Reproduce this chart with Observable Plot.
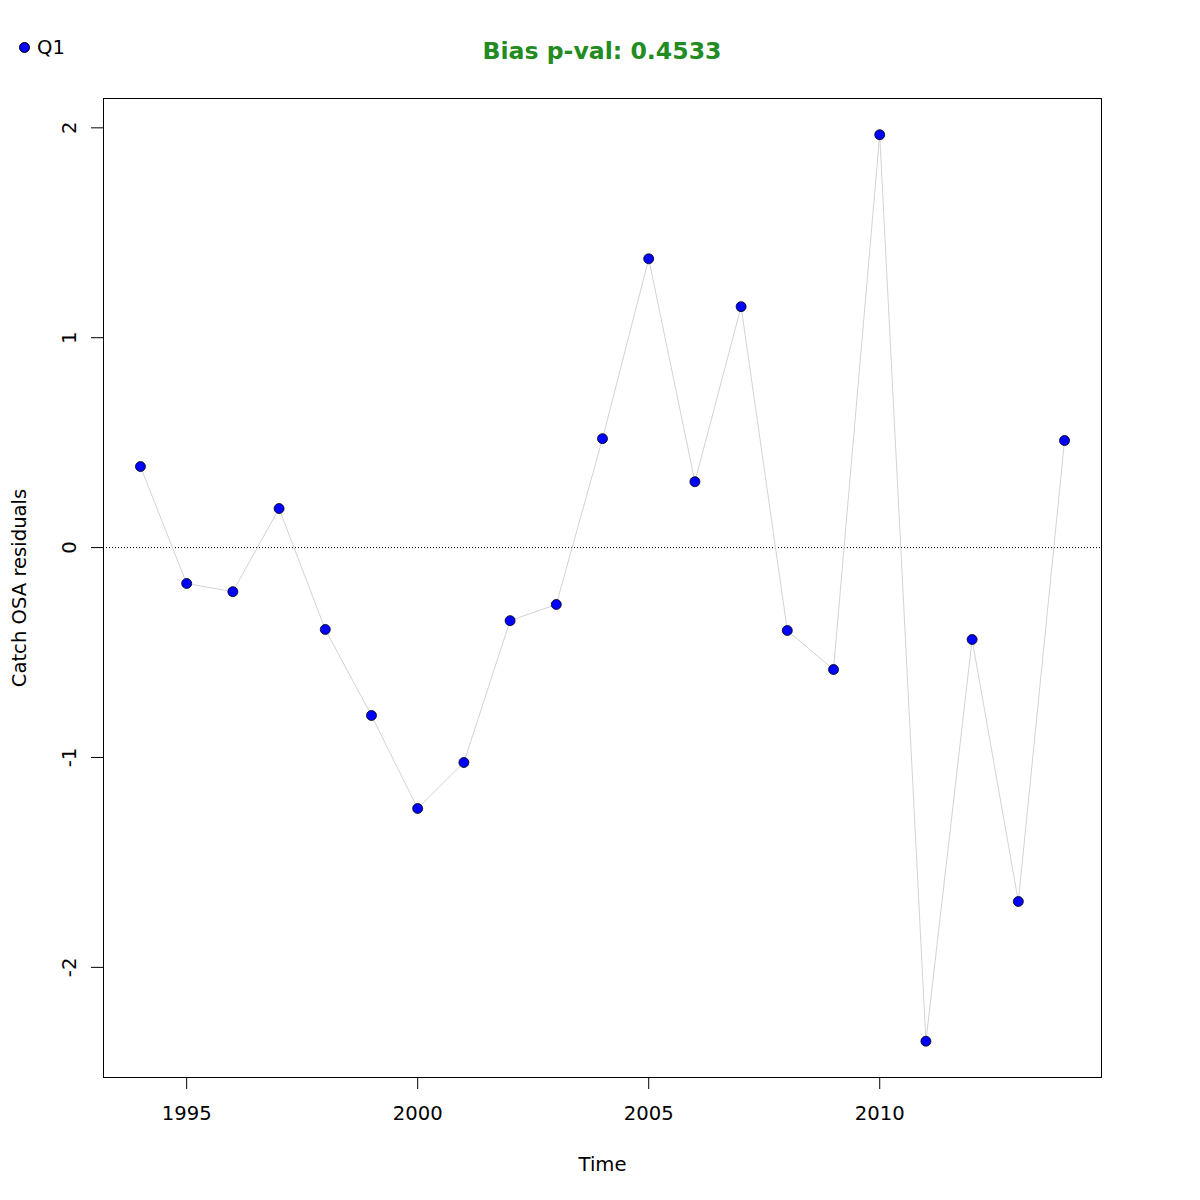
<!DOCTYPE html>
<html><head><meta charset="utf-8">
<script src="https://cdn.jsdelivr.net/npm/d3@7"></script>
<script src="https://cdn.jsdelivr.net/npm/@observablehq/plot@0.6"></script>
<style>
body{margin:0;background:#fff;}
#wrap{position:relative;width:1200px;height:1200px;font-family:"DejaVu Sans",sans-serif;}
.ov{position:absolute;white-space:nowrap;line-height:1;}
</style></head><body>
<div id="wrap"></div>
<script>
const years = [1994,1995,1996,1997,1998,1999,2000,2001,2002,2003,2004,2005,2006,2007,2008,2009,2010,2011,2012,2013,2014];
const residuals = [0.386,-0.171,-0.210,0.186,-0.390,-0.800,-1.243,-1.024,-0.348,-0.271,0.519,1.376,0.314,1.148,-0.395,-0.581,1.967,-2.352,-0.438,-1.686,0.510];
const xTicks = [1995,2000,2005,2010];
const yTicks = [-2,-1,0,1,2];
const titleText = "Bias p-val: 0.4533";
const seriesName = "Q1";
const xLabel = "Time";
const yLabel = "Catch OSA residuals";

const data = years.map((t,i)=>({t, r: residuals[i]}));
const pad = (a,b)=>{const d=(b-a)*0.04; return [a-d,b+d];};
const xDom = pad(d3.min(years), d3.max(years));
const yDom = pad(d3.min(residuals), d3.max(residuals));

const chart = Plot.plot({
  width: 1200, height: 1200,
  marginLeft: 103, marginRight: 99, marginTop: 98, marginBottom: 123,
  style: {fontSize: "19.6px", fontFamily: "'DejaVu Sans', sans-serif", color: "#000", background: "#fff"},
  x: {domain: xDom},
  y: {domain: yDom},
  marks: [
    Plot.ruleY([0], {stroke: "#000", strokeWidth: 1, strokeDasharray: "1,2"}),
    Plot.line(data, {x: "t", y: "r", stroke: "#d3d3d3", strokeWidth: 1}),
    Plot.dot(data, {x: "t", y: "r", r: 5, fill: "#0000ff", stroke: "#000", strokeWidth: 0.8}),
    Plot.axisX(xTicks, {tickSize: 12, tickPadding: 17, tickFormat: d=>String(d), label: xLabel, labelArrow: "none", labelAnchor: "center", labelOffset: 93, stroke: "#000"}),
    Plot.axisY(yTicks, {tickSize: 12, tickPadding: 16, tickRotate: -90, tickFormat: d=>String(d), label: yLabel, labelArrow: "none", labelAnchor: "center", labelOffset: 91, stroke: "#000"}),
    Plot.frame({stroke: "#000", strokeWidth: 1})
  ]
});
const wrap = document.getElementById("wrap");
wrap.appendChild(chart);

const t = document.createElement("div");
t.className = "ov";
t.textContent = titleText;
t.style.cssText = "left:0;width:1204px;text-align:center;top:40px;font-size:23.6px;font-weight:bold;color:#228b22;";
wrap.appendChild(t);

const lg = document.createElement("div");
lg.className = "ov";
lg.style.cssText = "left:19px;top:38px;font-size:19.6px;display:flex;align-items:center;";
lg.innerHTML = '<span style="display:inline-block;width:9px;height:9px;border-radius:50%;background:#0000ff;border:0.5px solid #000;margin-right:7px"></span><span></span>';
lg.lastChild.textContent = seriesName;
wrap.appendChild(lg);
</script>
</body></html>
